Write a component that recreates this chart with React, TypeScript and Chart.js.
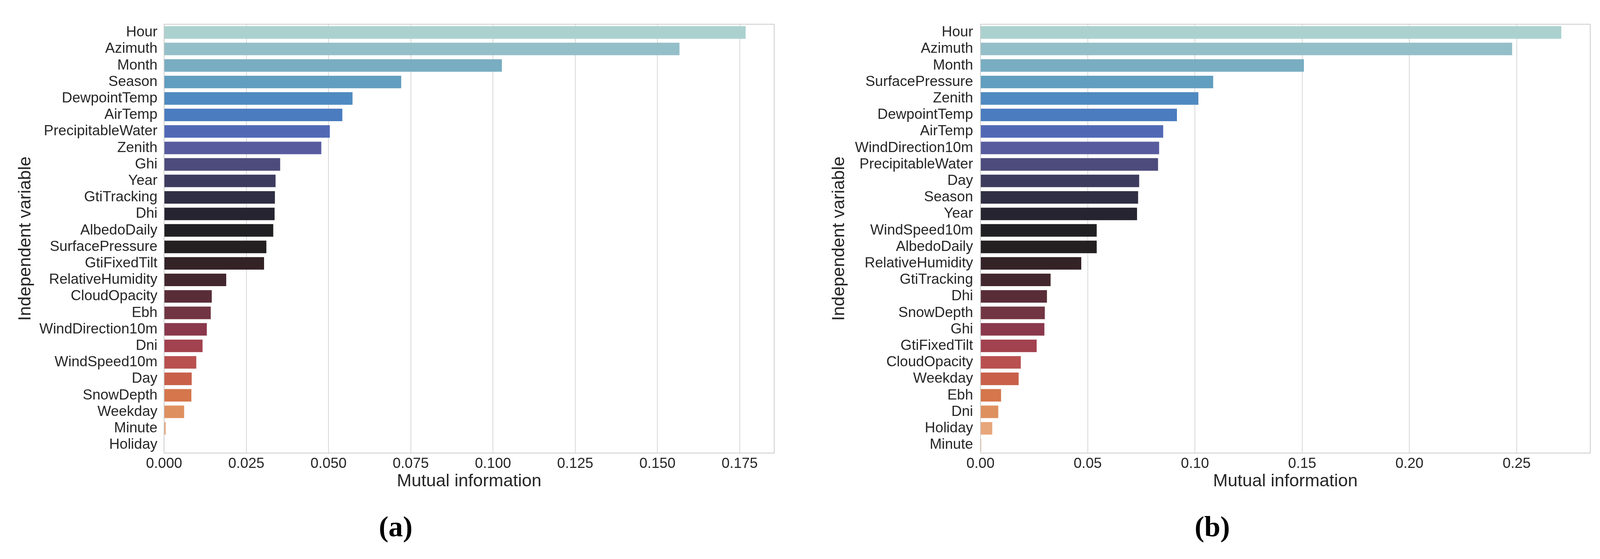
import React, { useEffect, useRef } from "react";
import { Chart, registerables } from "chart.js";

Chart.register(...registerables);

// ---------- Data: panel (a) ----------
const categoriesA = [
  "Hour", "Azimuth", "Month", "Season", "DewpointTemp", "AirTemp",
  "PrecipitableWater", "Zenith", "Ghi", "Year", "GtiTracking", "Dhi",
  "AlbedoDaily", "SurfacePressure", "GtiFixedTilt", "RelativeHumidity",
  "CloudOpacity", "Ebh", "WindDirection10m", "Dni", "WindSpeed10m", "Day",
  "SnowDepth", "Weekday", "Minute", "Holiday",
];
const valuesA = [
  0.1768, 0.1567, 0.1027, 0.0721, 0.0573, 0.0542, 0.0504, 0.0478, 0.0353,
  0.0339, 0.0337, 0.0336, 0.0332, 0.0311, 0.0304, 0.0189, 0.0145, 0.0142,
  0.0130, 0.0117, 0.0098, 0.0084, 0.0083, 0.0061, 0.0005, 0.0,
];
const xTicksA = [0, 0.025, 0.05, 0.075, 0.1, 0.125, 0.15, 0.175];
const xMaxA = 0.1855;

// ---------- Data: panel (b) ----------
const categoriesB = [
  "Hour", "Azimuth", "Month", "SurfacePressure", "Zenith", "DewpointTemp",
  "AirTemp", "WindDirection10m", "PrecipitableWater", "Day", "Season", "Year",
  "WindSpeed10m", "AlbedoDaily", "RelativeHumidity", "GtiTracking", "Dhi",
  "SnowDepth", "Ghi", "GtiFixedTilt", "CloudOpacity", "Weekday", "Ebh", "Dni",
  "Holiday", "Minute",
];
const valuesB = [
  0.2708, 0.2479, 0.1508, 0.1085, 0.1016, 0.0916, 0.0852, 0.0833, 0.0828,
  0.0740, 0.0735, 0.0730, 0.0542, 0.0542, 0.0470, 0.0327, 0.0310, 0.0300,
  0.0298, 0.0262, 0.0188, 0.0178, 0.0096, 0.0083, 0.0055, 0.0004,
];
const xTicksB = [0, 0.05, 0.1, 0.15, 0.2, 0.25];
const xMaxB = 0.2843;

// ---------- Style ----------
const barColors = [
  "#abd1cf", "#95bfc8", "#78adc2", "#629ebf", "#4f8bc0", "#4a7cbf",
  "#5169b5", "#585b9e", "#4d4b7b", "#3e3c5e", "#2f2e43", "#252430",
  "#202023", "#241f20", "#332226", "#43272e", "#592d38", "#713543",
  "#8a384c", "#a2414f", "#b85150", "#c8604a", "#d5764c", "#de905f",
  "#e8a67b", "#efbf9c",
];

const SANS = "'Liberation Sans', Arial, Helvetica, sans-serif";
const SERIF = "'Liberation Serif', 'Times New Roman', serif";
const TEXT = "#262626";
const GRID = "#cccccc";

const framePlugin = {
  id: "frameBox",
  afterDatasetsDraw(chart: any) {
    const { ctx, chartArea: a } = chart;
    ctx.save();
    ctx.strokeStyle = GRID;
    ctx.lineWidth = 2;
    ctx.strokeRect(a.left, a.top, a.right - a.left, a.bottom - a.top);
    ctx.restore();
  },
};

type PanelProps = {
  labels: string[];
  values: number[];
  ticks: number[];
  xMax: number;
  decimals: number;
  caption: string;
  yTitlePad: number;
  yTickPad: number;
  rightGap: number;
  left: number;
  width: number;
};

const HEIGHT = 1430;

function Panel(p: PanelProps) {
  const ref = useRef<HTMLCanvasElement | null>(null);
  useEffect(() => {
    if (!ref.current) return;
    const chart = new Chart(ref.current, {
      type: "bar",
      data: {
        labels: p.labels,
        datasets: [
          {
            data: p.values,
            backgroundColor: barColors,
            borderWidth: 0,
            barPercentage: 0.76,
            categoryPercentage: 1,
            xAxisID: "x",
            yAxisID: "y",
          },
        ],
      },
      options: {
        indexAxis: "y",
        animation: false,
        responsive: false,
        devicePixelRatio: 1,
        layout: { padding: { top: 62, bottom: 40, left: 0, right: 0 } },
        plugins: {
          legend: { display: false },
          tooltip: { enabled: false },
          title: {
            display: true,
            position: "bottom",
            text: p.caption,
            color: "#000000",
            font: { family: SERIF, size: 74, weight: "bold", lineHeight: 1 },
            padding: { top: 0, bottom: 0 },
          },
        },
        scales: {
          x: {
            type: "linear",
            position: "bottom",
            min: 0,
            max: p.xMax,
            afterBuildTicks: (s: any) => {
              s.ticks = p.ticks.map((v) => ({ value: v }));
            },
            afterFit: (s: any) => {
              s.height = 157;
            },
            grid: {
              display: true,
              color: GRID,
              lineWidth: 1.5,
              drawTicks: false,
            },
            border: { display: false },
            ticks: {
              padding: 6,
              color: TEXT,
              font: { family: SANS, size: 37, lineHeight: 1.2 },
              maxRotation: 0,
              callback: (v: any) => Number(v).toFixed(p.decimals),
            },
            title: {
              display: true,
              text: "Mutual information",
              color: TEXT,
              font: { family: SANS, size: 45, lineHeight: 1.2 },
              padding: { top: 0, bottom: 57 },
            },
          },
          y: {
            type: "category",
            position: "left",
            afterFit: (s: any) => {
              s.width = 420;
            },
            grid: { display: false, drawTicks: false },
            border: { display: false },
            ticks: {
              padding: p.yTickPad,
              color: TEXT,
              autoSkip: false,
              font: { family: SANS, size: 37 },
            },
            title: {
              display: true,
              text: "Independent variable",
              color: TEXT,
              font: { family: SANS, size: 45, lineHeight: 1.2 },
              padding: { top: p.yTitlePad, bottom: 0 },
            },
          },
          yr: {
            type: "linear",
            position: "right",
            display: true,
            grid: { display: false, drawTicks: false },
            border: { display: false },
            ticks: { display: false },
            title: { display: false },
            afterFit: (s: any) => {
              s.width = p.rightGap;
            },
          },
        },
      },
      plugins: [framePlugin],
    } as any);
    return () => chart.destroy();
  }, []);
  return (
    <canvas
      ref={ref}
      width={p.width}
      height={HEIGHT}
      style={{
        position: "absolute",
        left: p.left,
        top: 0,
        width: p.width,
        height: HEIGHT,
      }}
    />
  );
}

export default function App() {
  return (
    <div
      style={{
        position: "absolute",
        left: 0,
        top: 0,
        width: 4117,
        height: HEIGHT,
        background: "#ffffff",
        overflow: "hidden",
      }}
    >
      <Panel
        labels={categoriesA}
        values={valuesA}
        ticks={xTicksA}
        xMax={xMaxA}
        decimals={3}
        caption="(a)"
        yTitlePad={39}
        yTickPad={17}
        rightGap={44}
        left={0}
        width={2026}
      />
      <Panel
        labels={categoriesB}
        values={valuesB}
        ticks={xTicksB}
        xMax={xMaxB}
        decimals={2}
        caption="(b)"
        yTitlePad={32}
        yTickPad={19}
        rightGap={46}
        left={2090}
        width={2027}
      />
    </div>
  );
}
